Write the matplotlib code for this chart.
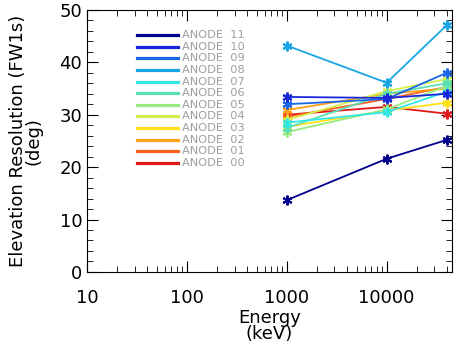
import numpy as np
import matplotlib.pyplot as plt
from matplotlib.ticker import MultipleLocator, LogLocator, NullFormatter

# energies (keV) and resolution per anode (deg)
energy = [1000, 10000, 40000]
anodes = ['11', '10', '09', '08', '07', '06', '05', '04', '03', '02', '01', '00']
res = {
    '11': [13.7, 21.6, 25.2],
    '10': [33.4, 33.2, 34.0],
    '09': [32.0, 33.0, 38.0],
    '08': [43.2, 36.1, 47.1],
    '07': [28.5, 30.5, 34.4],
    '06': [27.5, 34.0, 36.0],
    '05': [26.7, 31.0, 35.5],
    '04': [29.0, 34.5, 36.8],
    '03': [27.7, 30.8, 32.3],
    '02': [30.9, 34.0, 35.0],
    '01': [29.6, 33.0, 35.3],
    '00': [30.0, 31.5, 30.2],
}
colors = {
    '11': (0.0, 0.0, 0.55), '10': (0.1, 0.15, 0.85), '09': (0.1, 0.4, 0.9),
    '08': (0.1, 0.65, 0.9), '07': (0.2, 0.9, 0.9), '06': (0.35, 0.88, 0.7),
    '05': (0.6, 0.92, 0.5), '04': (0.82, 0.95, 0.3), '03': (1.0, 0.88, 0.1),
    '02': (1.0, 0.62, 0.1), '01': (0.98, 0.38, 0.1), '00': (0.88, 0.1, 0.1),
}

W, H = 456, 355
fig = plt.figure(figsize=(W / 100, H / 100), dpi=100)
ax = fig.add_axes([0.191, 0.234, 0.800, 0.738])

for a in anodes[::-1]:
    ax.plot(energy, res[a], color=colors[a], lw=1.3,
            marker=(6, 2, 0), ms=7, mew=1.5, mec=colors[a])

# legend drawn by hand (IDL style)
row = 11.64
for i, a in enumerate(anodes):
    y = 1 - (35 + i * row) / H
    fig.add_artist(plt.Line2D([137 / W, 178 / W], [y, y], color=colors[a], lw=2.3))
    fig.text(182 / W, y, 'ANODE  ' + a, color='0.62', fontsize=8.2,
             va='center', ha='left')

ax.set_xscale('log')
ax.set_xlim(10, 45000)
ax.set_ylim(0, 50)
ax.yaxis.set_major_locator(MultipleLocator(10))
ax.yaxis.set_minor_locator(MultipleLocator(2))
ax.xaxis.set_minor_locator(LogLocator(subs=np.arange(2, 10)))
ax.xaxis.set_minor_formatter(NullFormatter())
ax.set_xticks([10, 100, 1000, 10000])
ax.set_xticklabels(['10', '100', '1000', '10000'])
ax.tick_params(which='both', direction='in', top=True, right=True, labelsize=13)
ax.tick_params(which='major', length=8)
ax.tick_params(which='minor', length=4)
ax.tick_params(axis='x', pad=12)

ax.set_xlabel('Energy\n(keV)', fontsize=13, linespacing=0.85, labelpad=2)
ax.set_ylabel('Elevation Resolution (FW1s)\n(deg)', fontsize=13,
              linespacing=0.85, labelpad=12)

fig.savefig('out.png', dpi=100)
